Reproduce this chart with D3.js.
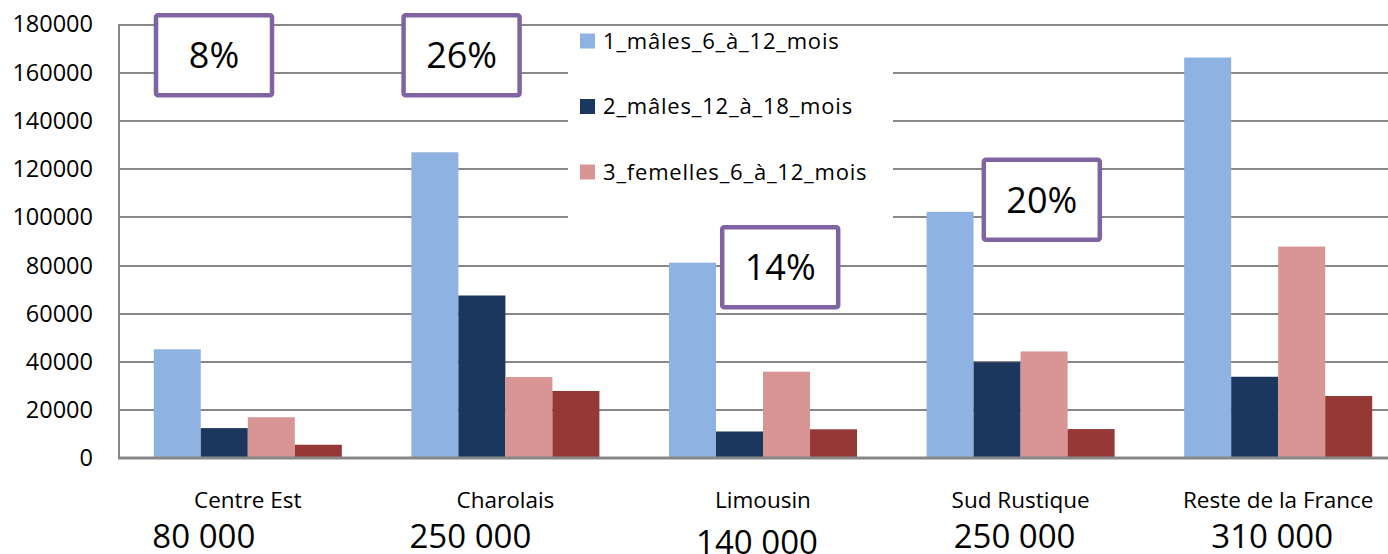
<!DOCTYPE html>
<meta charset="utf-8">
<head>
    <title>Effectifs par bassin</title>
</head>
<style>
    body {
        margin: 0;
        background-color: #ffffff;
        font-family: "Open Sans", Lato, Arial;
    }

    .grid line {
        stroke: #878787;
        stroke-width: 2px;
        shape-rendering: crispEdges;
    }

    .grid path {
        display: none;
    }

    .ytick text {
        font-size: 23.5px;
        fill: #000;
    }
</style>
<body>
    <svg width="1388" height="554"></svg>
</body>

<script src="https://d3js.org/d3.v7.min.js"></script>
<script>
    // data
    var categories = ["Centre Est", "Charolais", "Limousin", "Sud Rustique", "Reste de la France"];
    var seriesNames = ["1_mâles_6_à_12_mois", "2_mâles_12_à_18_mois", "3_femelles_6_à_12_mois", "4_femelles_12_à_18_mois"];
    var males6to12 = [45100, 126800, 81000, 102100, 166100];
    var males12to18 = [12400, 67400, 11000, 39700, 33700];
    var femelles6to12 = [16900, 33600, 35800, 44200, 87700];
    var femelles12to18 = [5500, 27800, 11900, 12000, 25700];
    var totals = ["80 000", "250 000", "140 000", "250 000", "310 000"];
    var shares = ["8%", "26%", "14%", "20%"];
    var yTicks = [0, 20000, 40000, 60000, 80000, 100000, 120000, 140000, 160000, 180000];

    var colours = ["#8EB3E2", "#1B375E", "#D99594", "#953836"];

    // layout (not data): where the free text boxes sit
    var shareBoxes = [
        { cat: "Centre Est", dx: 95, top: 184500 },
        { cat: "Charolais", dx: 85, top: 184500 },
        { cat: "Limousin", dx: 146, top: 96500 },
        { cat: "Sud Rustique", dx: 150, top: 124500 }
    ];
    var totalOffsets = [
        { dx: -44, y: 548 },
        { dx: -35, y: 548 },
        { dx: -6, y: 554 },
        { dx: -6, y: 548 },
        { dx: -6, y: 548 }
    ];

    var seriesValues = [males6to12, males12to18, femelles6to12, femelles12to18];
    var table = categories.map(function (c, i) {
        return { cat: c, values: seriesNames.map(function (s, j) { return { key: s, idx: j, value: seriesValues[j][i] }; }) };
    });

    var svg = d3.select("svg");
    var plotLeft = 119, plotTop = 24, plotBottom = 458, step = 257.6;

    var y = d3.scaleLinear().domain([0, 180000]).range([plotBottom, plotTop]);

    var x0 = d3.scaleBand()
        .domain(categories)
        .range([plotLeft, plotLeft + step * categories.length])
        .padding(0);

    var x1 = d3.scaleBand()
        .domain(seriesNames)
        .range([0, x0.bandwidth()])
        .paddingInner(0)
        .paddingOuter(0.74);

    // gridlines
    svg.append("g")
        .attr("class", "grid")
        .attr("transform", "translate(" + plotLeft + ",0)")
        .call(d3.axisLeft(y).tickValues(yTicks.filter(function (d) { return d > 0; }))
            .tickSize(-(1388 - plotLeft)).tickFormat(""));

    // y labels
    svg.append("g")
        .attr("class", "ytick")
        .selectAll("text")
        .data(yTicks)
        .enter()
        .append("text")
        .attr("x", 93)
        .attr("y", function (d) { return y(d); })
        .attr("dy", "0.36em")
        .attr("text-anchor", "end")
        .text(function (d) { return d; });

    // bars
    var groups = svg.selectAll(".cat")
        .data(table)
        .enter()
        .append("g")
        .attr("class", "cat")
        .attr("transform", function (d) { return "translate(" + x0(d.cat) + ",0)"; });

    groups.selectAll("rect")
        .data(function (d) { return d.values; })
        .enter()
        .append("rect")
        .attr("x", function (d) { return x1(d.key); })
        .attr("width", x1.bandwidth())
        .attr("y", function (d) { return y(d.value); })
        .attr("height", function (d) { return y(0) - y(d.value); })
        .attr("fill", function (d) { return colours[d.idx]; });

    // axes lines
    svg.append("line")
        .attr("x1", plotLeft).attr("x2", plotLeft)
        .attr("y1", y(180000)).attr("y2", y(0))
        .attr("stroke", "#878787").attr("stroke-width", 2);

    svg.append("line")
        .attr("x1", plotLeft - 1).attr("x2", 1388)
        .attr("y1", y(0)).attr("y2", y(0))
        .attr("stroke", "#878787").attr("stroke-width", 3);

    // category labels
    svg.selectAll("text.catlabel")
        .data(categories)
        .enter()
        .append("text")
        .attr("class", "catlabel")
        .attr("x", function (d) { return x0(d) + x0.bandwidth() / 2; })
        .attr("y", 508)
        .attr("text-anchor", "middle")
        .style("font-size", "22.5px")
        .text(function (d) { return d; });

    // totals under the categories
    svg.selectAll("text.total")
        .data(totals)
        .enter()
        .append("text")
        .attr("class", "total")
        .attr("x", function (d, i) { return x0(categories[i]) + x0.bandwidth() / 2 + totalOffsets[i].dx; })
        .attr("y", function (d, i) { return totalOffsets[i].y; })
        .attr("text-anchor", "middle")
        .style("font-size", "33px")
        .text(function (d) { return d; });

    // legend
    var legend = svg.append("g");
    legend.append("rect")
        .attr("x", 568).attr("y", y(180000) + 2)
        .attr("width", 325).attr("height", 196)
        .attr("fill", "#fff");

    var items = legend.selectAll("g.item")
        .data(seriesNames.slice(0, 3))
        .enter()
        .append("g")
        .attr("class", "item")
        .attr("transform", function (d, i) { return "translate(580," + (41 + i * 65.5) + ")"; });

    items.append("rect")
        .attr("x", 0).attr("y", -7.5)
        .attr("width", 15).attr("height", 15)
        .attr("fill", function (d, i) { return colours[i]; });

    items.append("text")
        .attr("x", 23)
        .attr("dy", "0.36em")
        .style("font-size", "22px")
        .style("letter-spacing", "0.8px")
        .text(function (d) { return d; });

    // share boxes
    var boxes = svg.selectAll("g.share")
        .data(shares)
        .enter()
        .append("g")
        .attr("class", "share")
        .attr("transform", function (d, i) {
            var b = shareBoxes[i];
            return "translate(" + (x0(b.cat) + b.dx) + "," + y(b.top) + ")";
        });

    boxes.append("rect")
        .attr("x", -58).attr("y", 2)
        .attr("width", 116).attr("height", 80)
        .attr("rx", 2)
        .attr("fill", "#fff")
        .attr("stroke", "#8064A2")
        .attr("stroke-width", 4.5);

    boxes.append("text")
        .attr("y", 42)
        .attr("dy", "0.36em")
        .attr("text-anchor", "middle")
        .style("font-size", "36px")
        .text(function (d) { return d; });
</script>
